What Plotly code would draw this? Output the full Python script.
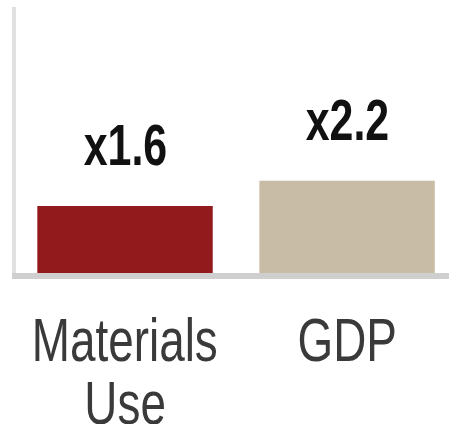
import json
import plotly.graph_objects as go

categories = ["Materials\nUse", "GDP"]
values = [1.6, 2.2]
value_labels = ["x1.6", "x2.2"]
bar_colors = ["#921a1c", "#c8bca6"]

FONT = "Liberation Sans, Arial, sans-serif"

xs = list(range(len(categories)))

fig = go.Figure()
fig.add_trace(go.Bar(
    x=xs, y=values, width=0.79,
    marker=dict(color=bar_colors, line=dict(width=0)),
    hoverinfo="skip", showlegend=False,
))

annotations = []
squeeze = []
for i, (v, lab) in enumerate(zip(values, value_labels)):
    annotations.append(dict(
        x=i, y=v, xref="x", yref="y", text=f"<b>{lab}</b>", showarrow=False,
        yanchor="bottom", yshift=27,
        font=dict(family=FONT, size=58, color="#111111"),
    ))
    squeeze.append(0.74)
for i, cat in enumerate(categories):
    for j, line in enumerate(cat.split("\n")):
        annotations.append(dict(
            x=i, y=0, xref="x", yref="y", text=line, showarrow=False,
            yanchor="top", yshift=-(30 + 63 * j),
            font=dict(family=FONT, size=62, color="#3a3a3a"),
        ))
        squeeze.append(0.74)

fig.update_layout(
    width=449, height=424,
    margin=dict(l=16, r=0, t=7, b=151),
    paper_bgcolor="white", plot_bgcolor="white",
    annotations=annotations,
    xaxis=dict(range=[-0.491, 1.459], showticklabels=False, ticks="",
               showgrid=False, zeroline=False, showline=True,
               linecolor="#cfcfcf", linewidth=6, fixedrange=True),
    yaxis=dict(range=[0, 6.35], showticklabels=False, ticks="",
               showgrid=False, zeroline=False, showline=True,
               linecolor="#e0e0e0", linewidth=4, fixedrange=True),
)

post = """
(function(){
  var gd = document.getElementById('{plot_id}');
  var sc = SCALES;
  function apply(){
    gd.querySelectorAll('g.annotation').forEach(function(g){
      var i = +g.getAttribute('data-index');
      var t = g.querySelector('text.annotation-text');
      if (t && sc[i]) {
        t.style.transformBox = 'fill-box';
        t.style.transformOrigin = 'center';
        t.style.transform = 'scaleX(' + sc[i] + ')';
      }
    });
  }
  apply();
  setTimeout(apply, 0);
  if (gd.on) gd.on('plotly_afterplot', apply);
})();
""".replace("SCALES", json.dumps(squeeze))

fig.write_html("out.html", config={"displayModeBar": False}, post_script=post)
